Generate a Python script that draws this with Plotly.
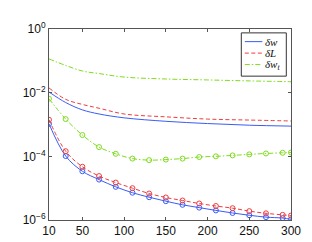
import plotly.graph_objects as go

# ---- data ----
x_upper = [10, 30, 50, 70, 100, 150, 200, 250, 300]
dw_upper = [1.05e-2, 4.9e-3, 2.88e-3, 2.14e-3, 1.62e-3, 1.26e-3, 1.07e-3, 9.5e-4, 8.9e-4]
dL_upper = [1.41e-2, 6.17e-3, 4.27e-3, 3.24e-3, 2.14e-3, 1.74e-3, 1.48e-3, 1.38e-3, 1.29e-3]
dwt_upper = [0.115, 0.0716, 0.0479, 0.0398, 0.0309, 0.0269, 0.0251, 0.0234, 0.0221]

x_lower = [10, 30, 50, 70, 90, 110, 130, 150, 170, 190, 210, 230, 250, 270, 290, 300]
dw_lower = [1.05e-3, 1.02e-4, 3.4e-5, 1.86e-5, 1.10e-5, 7.2e-6, 5.2e-6, 3.9e-6,
            3.0e-6, 2.45e-6, 2.0e-6, 1.66e-6, 1.41e-6, 1.23e-6, 1.15e-6, 1.05e-6]
dL_lower = [1.41e-3, 1.45e-4, 4.7e-5, 2.4e-5, 1.5e-5, 1.0e-5, 6.8e-6, 5.1e-6,
            4.1e-6, 3.3e-6, 2.75e-6, 2.35e-6, 1.9e-6, 1.62e-6, 1.45e-6, 1.38e-6]
dwt_lower = [6.46e-3, 1.48e-3, 4.68e-4, 1.95e-4, 1.20e-4, 8.5e-5, 7.6e-5, 7.9e-5,
             8.5e-5, 9.5e-5, 1.0e-4, 1.07e-4, 1.15e-4, 1.23e-4, 1.29e-4, 1.32e-4]

x_ticks = [10, 50, 100, 150, 200, 250, 300]
y_ticks = [1e-6, 1e-4, 1e-2, 1]
y_ticktext = ["10<sup>\u22126</sup>", "10<sup>\u22124</sup>", "10<sup>\u22122</sup>", "10<sup>0</sup>"]

legend_names = ["<i>\u03b4w</i>", "<i>\u03b4L</i>", "<i>\u03b4w<sub>t</sub></i>"]

BLUE = "#3a5cf5"
RED = "#f03c3c"
GREEN = "#7fdc1e"
colors = [BLUE, RED, GREEN]
dashes = ["solid", "4px,2.5px", "5px,2px,1.5px,2px"]

fig = go.Figure()
for ys, c, d in zip([dw_upper, dL_upper, dwt_upper], colors, dashes):
    fig.add_trace(go.Scatter(x=x_upper, y=ys, mode="lines",
                             line=dict(color=c, width=1, dash=d, shape="spline"),
                             showlegend=False))
for ys, c, d in zip([dw_lower, dL_lower, dwt_lower], colors, dashes):
    fig.add_trace(go.Scatter(x=x_lower, y=ys, mode="lines+markers",
                             line=dict(color=c, width=1, dash=d, shape="spline"),
                             marker=dict(symbol="circle-open", size=5, color=c,
                                         line=dict(width=1, color=c)),
                             showlegend=False))

# manual legend box (paper coordinates)
W, H = 312, 242
L, R, T, B = 40.7, 29.3, 17.5, 28
pw, ph = W - L - R, H - T - B


def px2paper(px, py):
    return (px - L) / pw, 1 - (py - T) / ph


x0, y0 = px2paper(233, 21.5)
x1, y1 = px2paper(278, 66)
fig.add_shape(type="rect", xref="paper", yref="paper", x0=x0, y0=y1, x1=x1, y1=y0,
              line=dict(color="#333333", width=1), fillcolor="white", layer="above")
for i, (name, c, d) in enumerate(zip(legend_names, colors, dashes)):
    yy = 30.5 + i * 11.8
    lx0, ly = px2paper(236.5, yy)
    lx1, _ = px2paper(254, yy)
    fig.add_shape(type="line", xref="paper", yref="paper", x0=lx0, x1=lx1, y0=ly, y1=ly,
                  line=dict(color=c, width=1, dash=d), layer="above")
    tx, _ = px2paper(255, yy)
    fig.add_annotation(xref="paper", yref="paper", x=tx, y=ly, text=name,
                       showarrow=False, xanchor="left", yanchor="middle",
                       font=dict(family="Liberation Serif, DejaVu Serif, serif", size=11, color="#111"))

axis_common = dict(showgrid=False, zeroline=False, showline=True, linecolor="#555555",
                   linewidth=1, mirror="ticks", ticks="inside", ticklen=3,
                   tickcolor="#555555",
                   tickfont=dict(family="Liberation Sans, Arial, sans-serif", size=12, color="#111"))

fig.update_xaxes(range=[10, 300], tickvals=x_ticks, **axis_common)
fig.update_yaxes(type="log", range=[-6, 0], tickvals=y_ticks, ticktext=y_ticktext, **axis_common)

fig.update_layout(width=W, height=H, margin=dict(l=L, r=R, t=T, b=B, pad=0),
                  plot_bgcolor="white", paper_bgcolor="white", showlegend=False)

fig.write_html("out.html")
